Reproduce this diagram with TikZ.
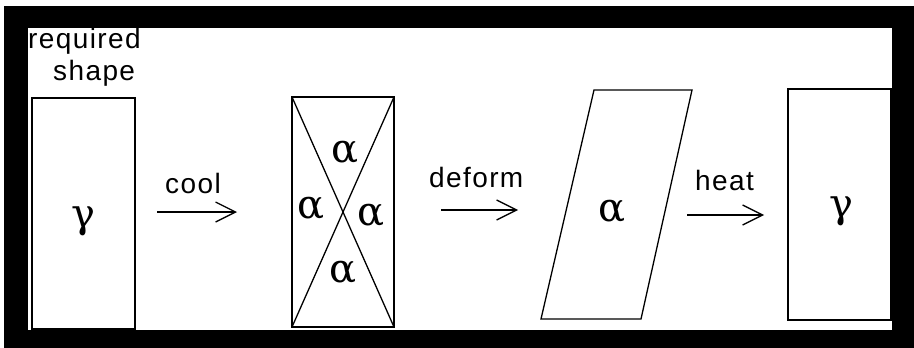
\documentclass[tikz,border=0pt]{standalone}
\usepackage{fontspec}
\setmainfont{Liberation Sans}[LetterSpace=5]
\newfontfamily\greekfont{DejaVu Serif}
\usetikzlibrary{arrows.meta}
\tikzset{
  shapeline/.style={draw=black, line width=1.3pt},
  lbl/.style={anchor=base west, inner sep=0pt, font=\fontsize{28}{30}\selectfont},
  grk/.style={inner sep=0pt, font=\greekfont\fontsize{40}{42}\selectfont},
  steparrow/.style={draw=black, line width=1.3pt, -{Straight Barb[length=20pt,width=20pt,line width=1.3pt]}}
}
\begin{document}
\begin{tikzpicture}[x=1pt,y=-1pt]
\useasboundingbox (0,0) rectangle (914,348);
\fill[white] (0,0) rectangle (914,348);
% frame
\fill[black] (4,6) rectangle (914,348);
\fill[white] (28,28) rectangle (892,330);

% left box
\draw[shapeline] (32,98) rectangle (135,329);
\node[grk] (g1) at (83,221) {γ};
\node[lbl] (req) at (28,48) {required};
\node[lbl] (shp) at (53,80) {shape};

% cool arrow
\coordinate (c1) at (157,212);
\coordinate (c2) at (237,212);
\draw[steparrow] (c1) -- (c2);
\node[lbl] (cool) at (165,193) {cool};

% middle box with diagonals
\coordinate (m1) at (292,97);
\coordinate (m2) at (394,97);
\coordinate (m3) at (394,327);
\coordinate (m4) at (292,327);
\draw[shapeline] (m1) rectangle (m3);
\draw[shapeline] (m1) -- (m3);
\draw[shapeline] (m2) -- (m4);
\node[grk] (a1) at (345,152) {α};
\node[grk] (a2) at (311,208) {α};
\node[grk] (a3) at (371,215) {α};
\node[grk] (a4) at (343,272) {α};

% deform arrow
\coordinate (d1) at (441,210);
\coordinate (d2) at (518,210);
\draw[steparrow] (d1) -- (d2);
\node[lbl] (deform) at (429,187) {deform};

% parallelogram
\coordinate (p1) at (594,90);
\coordinate (p2) at (692,90);
\coordinate (p3) at (641,319);
\coordinate (p4) at (541,319);
\draw[shapeline] (p1) -- (p2) -- (p3) -- (p4) -- cycle;
\node[grk] (a5) at (612,211) {α};

% heat arrow
\coordinate (h1) at (687,215);
\coordinate (h2) at (764,215);
\draw[steparrow] (h1) -- (h2);
\node[lbl] (heat) at (695,190) {heat};

% right box
\draw[shapeline] (788,89) rectangle (891,320);
\node[grk] (g2) at (841,211) {γ};
\end{tikzpicture}
\end{document}
